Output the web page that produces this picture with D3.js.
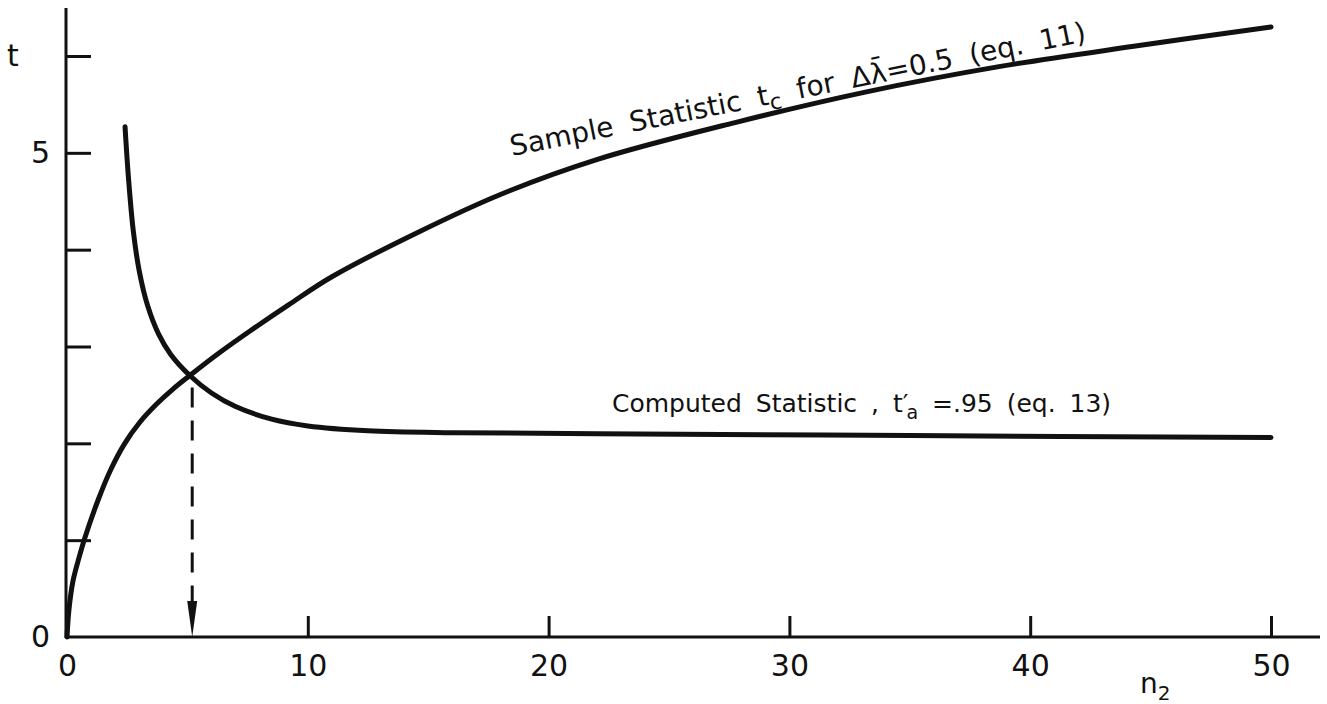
<!DOCTYPE html>
<html>
<head>
<meta charset="utf-8">
<script src="https://cdn.jsdelivr.net/npm/d3@7"></script>
<style>
  body { margin: 0; background: #fff; }
  svg { display: block; }
  text { font-family: "DejaVu Sans", sans-serif; fill: #111; }
  .axis path, .axis line { stroke: #111; stroke-width: 3; }
</style>
</head>
<body>
<div id="chart"></div>
<script>
// n2 vs t
let sampleN = [0, 0.08, 0.25, 0.5, 0.75, 1.3, 1.8, 2.4, 3.0, 3.7, 4.4, 5.1, 6.3, 7.6, 9.2, 11, 14.5, 18, 22, 27.7, 33.2, 38.7, 44.3, 50];
let sampleT = [0, 0.28, 0.58, 0.82, 1.03, 1.42, 1.72, 2.0, 2.21, 2.40, 2.56, 2.70, 2.93, 3.16, 3.43, 3.72, 4.17, 4.57, 4.93, 5.31, 5.63, 5.89, 6.10, 6.30];

let computedN = [2.41, 2.55, 2.75, 3.0, 3.35, 3.8, 4.3, 5.1, 6.0, 7.0, 8.5, 10, 12.5, 16, 22, 35, 50];
let computedT = [5.27, 4.75, 4.20, 3.78, 3.42, 3.13, 2.92, 2.70, 2.52, 2.38, 2.25, 2.18, 2.13, 2.11, 2.10, 2.08, 2.06];

let xTicks = [10, 20, 30, 40, 50];
let xLabels = [0, 10, 20, 30, 40, 50];
let yTicks = [1, 2, 3, 4, 5, 6];
let yLabels = [0, 5];

let crossN = 5.2;
let crossT = 2.66;

const width = 1327, height = 704;

let svg = d3.select('#chart').append('svg')
    .attr('width', width)
    .attr('height', height);

let x = d3.scaleLinear().domain([0, 50]).range([67, 1271]);
let y = d3.scaleLinear().domain([0, 6]).range([637, 56]);

// axis lines (run past the data range like the original)
svg.append('line')
    .attr('x1', x(0) - 1).attr('x2', 1320)
    .attr('y1', y(0)).attr('y2', y(0))
    .attr('stroke', '#111').attr('stroke-width', 3);
svg.append('line')
    .attr('x1', x(0) - 1).attr('x2', x(0) - 1)
    .attr('y1', 8).attr('y2', y(0) + 1)
    .attr('stroke', '#111').attr('stroke-width', 3);

// ticks, pointing inward
let xAxis = svg.append('g')
    .attr('class', 'axis')
    .attr('transform', `translate(0,${y(0)})`)
    .call(d3.axisBottom(x).tickValues(xTicks).tickSize(-21).tickFormat(''));
xAxis.select('.domain').remove();

let yAxis = svg.append('g')
    .attr('class', 'axis')
    .attr('transform', `translate(${x(0) - 1},0)`)
    .call(d3.axisLeft(y).tickValues(yTicks).tickSize(-25).tickFormat(''));
yAxis.select('.domain').remove();

// tick labels
let xLab = svg.append('g')
    .attr('transform', `translate(0,${y(0)})`)
    .call(d3.axisBottom(x).tickValues(xLabels).tickSize(0).tickPadding(18).tickFormat(d3.format('d')));
xLab.select('.domain').remove();
xLab.selectAll('text').attr('font-size', 30).attr('font-family', '"DejaVu Sans", sans-serif').attr('fill', '#111');

let yLab = svg.append('g')
    .attr('transform', `translate(${x(0)},0)`)
    .call(d3.axisLeft(y).tickValues(yLabels).tickSize(0).tickPadding(17).tickFormat(d3.format('d')));
yLab.select('.domain').remove();
yLab.selectAll('text').attr('font-size', 30).attr('font-family', '"DejaVu Sans", sans-serif').attr('fill', '#111');

// axis titles
svg.append('text')
    .attr('x', 13).attr('y', 66)
    .attr('text-anchor', 'middle')
    .attr('font-size', 30)
    .text('t');

let nLabel = svg.append('text')
    .attr('x', 1140).attr('y', 693)
    .attr('font-size', 28);
nLabel.append('tspan').text('n');
nLabel.append('tspan').attr('dy', 7).attr('font-size', 20).text('2');

// curves
let line = d3.line()
    .x(d => x(d[0]))
    .y(d => y(d[1]))
    .curve(d3.curveCatmullRom.alpha(0.5));

svg.append('path')
    .datum(d3.zip(sampleN, sampleT))
    .attr('d', line)
    .attr('fill', 'none')
    .attr('stroke', '#111')
    .attr('stroke-width', 5)
    .attr('stroke-linecap', 'round');

svg.append('path')
    .datum(d3.zip(computedN, computedT))
    .attr('d', line)
    .attr('fill', 'none')
    .attr('stroke', '#111')
    .attr('stroke-width', 5)
    .attr('stroke-linecap', 'round');

// dashed drop line with arrow
svg.append('line')
    .attr('x1', x(crossN)).attr('x2', x(crossN))
    .attr('y1', y(crossT) + 8).attr('y2', y(0) - 30)
    .attr('stroke', '#111')
    .attr('stroke-width', 3)
    .attr('stroke-dasharray', '20 13');

svg.append('path')
    .attr('d', `M${x(crossN) - 5},${y(0) - 36} L${x(crossN) + 5},${y(0) - 36} L${x(crossN)},${y(0)} Z`)
    .attr('fill', '#111');

// curve labels
let sLabel = svg.append('text')
    .attr('transform', 'translate(512,156) rotate(-11.3)')
    .attr('font-size', 28)
    .attr('word-spacing', 8);
sLabel.append('tspan').text('Sample Statistic t');
sLabel.append('tspan').attr('dy', 6).attr('font-size', 22).text('c');
sLabel.append('tspan').attr('dy', -6).text(' for Δλ\u0304=0.5 (eq. 11)');

let cLabel = svg.append('text')
    .attr('x', 612).attr('y', 412)
    .attr('font-size', 25)
    .attr('word-spacing', 6);
cLabel.append('tspan').text('Computed Statistic , t′');
cLabel.append('tspan').attr('dy', 7).attr('dx', -2).attr('font-size', 19).text('a');
cLabel.append('tspan').attr('dy', -7).text(' =.95 (eq. 13)');
</script>
</body>
</html>
